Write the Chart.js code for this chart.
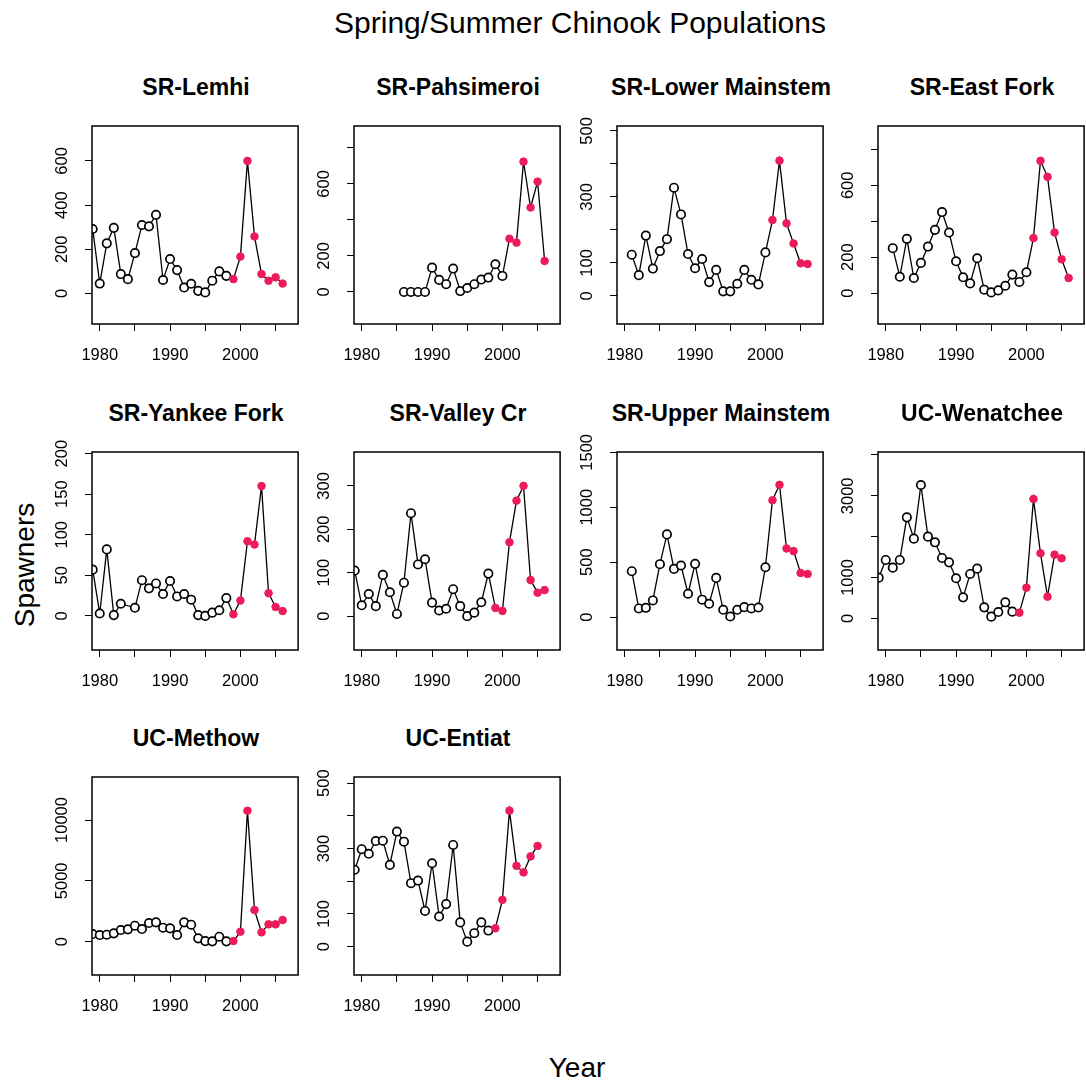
<!DOCTYPE html>
<html>
<head>
<meta charset="utf-8">
<title>Spring/Summer Chinook Populations</title>
<script src="https://cdn.jsdelivr.net/npm/chart.js@4.4.1/dist/chart.umd.min.js"></script>
<style>
    html, body { margin: 0; padding: 0; background: #fff; overflow: hidden; }
    body { width: 1086px; height: 1086px; position: relative; font-family: "Liberation Sans", Arial, sans-serif; color: #000; }
    canvas.panel { position: absolute; }
    .lbl { position: absolute; white-space: nowrap; line-height: 1; transform: translate(-50%, -50%); }
    .main { font-size: 30px; }
    .ptitle { font-size: 23px; font-weight: bold; }
    .axtitle { font-size: 28px; }
</style>
</head>
<body>
<div class="lbl main" style="left:580px; top:23px;">Spring/Summer Chinook Populations</div>
<div class="lbl axtitle" style="left:25px; top:565px; transform: translate(-50%, -50%) rotate(-90deg);">Spawners</div>
<div class="lbl axtitle" style="left:577px; top:1068px;">Year</div>

<script>
/**
 * Spring/Summer Chinook spawner counts, one small panel per population
 */

// years on the x axis
const yrs79to06 = [1979, 1980, 1981, 1982, 1983, 1984, 1985, 1986, 1987, 1988, 1989, 1990, 1991, 1992,
    1993, 1994, 1995, 1996, 1997, 1998, 1999, 2000, 2001, 2002, 2003, 2004, 2005, 2006];
const yrs79to05 = [1979, 1980, 1981, 1982, 1983, 1984, 1985, 1986, 1987, 1988, 1989, 1990, 1991, 1992,
    1993, 1994, 1995, 1996, 1997, 1998, 1999, 2000, 2001, 2002, 2003, 2004, 2005];
const yrs81to06 = [1981, 1982, 1983, 1984, 1985, 1986, 1987, 1988, 1989, 1990, 1991, 1992,
    1993, 1994, 1995, 1996, 1997, 1998, 1999, 2000, 2001, 2002, 2003, 2004, 2005, 2006];
const yrs86to06 = [1986, 1987, 1988, 1989, 1990, 1991, 1992, 1993, 1994, 1995, 1996, 1997, 1998, 1999,
    2000, 2001, 2002, 2003, 2004, 2005, 2006];
const yankeeYears = [1979, 1980, 1981, 1982, 1983, 1985, 1986, 1987, 1988, 1989, 1990, 1991, 1992,
    1993, 1994, 1995, 1996, 1997, 1998, 1999, 2000, 2001, 2002, 2003, 2004, 2005, 2006];

// spawners
const lemhiSpawners = [292, 45, 227, 297, 88, 65, 183, 310, 304, 356, 61, 156, 106, 27, 44, 12, 5, 58, 100, 80,
    65, 167, 600, 258, 88, 58, 73, 45];
const pahsimeroiSpawners = [0, 0, 0, 0, 135, 67, 43, 130, 5, 22, 43, 69, 80, 154, 89,
    296, 274, 724, 469, 613, 172];
const lowerMainSpawners = [125, 63, 183, 83, 136, 172, 328, 247, 127, 84, 112, 42, 79, 14, 14, 37, 79, 49, 35, 132,
    230, 410, 220, 159, 99, 97];
const eastForkSpawners = [250, 91, 302, 84, 168, 259, 352, 451, 337, 177, 88, 54, 194, 19, 4, 15, 41, 103, 62, 116,
    306, 736, 647, 337, 188, 84];
const yankeeSpawners = [57, 3, 82, 1, 15, 10, 44, 34, 40, 27, 43, 24, 27, 20, 1, 0, 4, 7, 22,
    2, 19, 92, 88, 160, 28, 11, 6];
const valleySpawners = [105, 25, 51, 23, 95, 55, 5, 77, 237, 119, 131, 31, 13, 17, 62, 23, 0, 8, 32, 98,
    19, 12, 170, 266, 300, 83, 54, 60];
const upperMainSpawners = [418, 79, 85, 152, 482, 753, 439, 470, 213, 485, 159, 122, 357, 67, 6, 67, 91, 79, 88, 454,
    1064, 1204, 625, 601, 402, 393];
const wenatcheeSpawners = [996, 1429, 1241, 1429, 2473, 1951, 3265, 2000, 1861, 1478, 1371, 980, 514, 1086, 1216,
    269, 41, 155, 392, 163, 139, 751, 2922, 1592, 531, 1559, 1469];
const methowSpawners = [630, 548, 575, 685, 959, 1014, 1315, 1041, 1534, 1589, 1151, 1096, 548, 1589, 1397,
    274, 50, 30, 411, 30, 55, 822, 10767, 2603, 767, 1425, 1425, 1781];
const entiatSpawners = [235, 298, 284, 323, 324, 250, 352, 321, 194, 202, 109, 255, 92, 130, 311, 74, 15, 41, 74, 49,
    56, 143, 416, 247, 227, 276, 308];

// ticks and tick labels
const xTicks = [1980, 1985, 1990, 1995, 2000, 2005];
const xLabels = ["1980", "1990", "2000"];
const lemhiYTicks = [0, 200, 400, 600];
const lemhiYLabels = ["0", "200", "400", "600"];
const pahsimeroiYTicks = [0, 200, 400, 600, 800];
const pahsimeroiYLabels = ["0", "200", "600"];
const lowerMainYTicks = [0, 100, 200, 300, 400, 500];
const lowerMainYLabels = ["0", "100", "300", "500"];
const eastForkYTicks = [0, 200, 400, 600, 800];
const eastForkYLabels = ["0", "200", "600"];
const yankeeYTicks = [0, 50, 100, 150, 200];
const yankeeYLabels = ["0", "50", "100", "150", "200"];
const valleyYTicks = [0, 100, 200, 300];
const valleyYLabels = ["0", "100", "200", "300"];
const upperMainYTicks = [0, 500, 1000, 1500];
const upperMainYLabels = ["0", "500", "1000", "1500"];
const wenatcheeYTicks = [0, 1000, 2000, 3000, 4000];
const wenatcheeYLabels = ["0", "1000", "3000"];
const methowYTicks = [0, 5000, 10000];
const methowYLabels = ["0", "5000", "10000"];
const entiatYTicks = [0, 100, 200, 300, 400, 500];
const entiatYLabels = ["0", "100", "300", "500"];

const panels = [
    { title: "SR-Lemhi", years: yrs79to06, values: lemhiSpawners, redFrom: 1999, yMin: -138, yMax: 758, yTicks: lemhiYTicks, yLabels: lemhiYLabels, col: 0, row: 0 },
    { title: "SR-Pahsimeroi", years: yrs86to06, values: pahsimeroiSpawners, redFrom: 2001, yMin: -178, yMax: 922, yTicks: pahsimeroiYTicks, yLabels: pahsimeroiYLabels, col: 1, row: 0 },
    { title: "SR-Lower Mainstem", years: yrs81to06, values: lowerMainSpawners, redFrom: 2001, yMin: -85, yMax: 515, yTicks: lowerMainYTicks, yLabels: lowerMainYLabels, col: 2, row: 0 },
    { title: "SR-East Fork", years: yrs81to06, values: eastForkSpawners, redFrom: 2001, yMin: -172, yMax: 930, yTicks: eastForkYTicks, yLabels: eastForkYLabels, col: 3, row: 0 },
    { title: "SR-Yankee Fork", years: yankeeYears, values: yankeeSpawners, redFrom: 1999, yMin: -42, yMax: 202, yTicks: yankeeYTicks, yLabels: yankeeYLabels, col: 0, row: 1 },
    { title: "SR-Valley Cr", years: yrs79to06, values: valleySpawners, redFrom: 1999, yMin: -78, yMax: 378, yTicks: valleyYTicks, yLabels: valleyYLabels, col: 1, row: 1 },
    { title: "SR-Upper Mainstem", years: yrs81to06, values: upperMainSpawners, redFrom: 2001, yMin: -299, yMax: 1503, yTicks: upperMainYTicks, yLabels: upperMainYLabels, col: 2, row: 1 },
    { title: "UC-Wenatchee", years: yrs79to05, values: wenatcheeSpawners, redFrom: 1999, yMin: -776, yMax: 4073, yTicks: wenatcheeYTicks, yLabels: wenatcheeYLabels, col: 3, row: 1 },
    { title: "UC-Methow", years: yrs79to06, values: methowSpawners, redFrom: 1999, yMin: -2737, yMax: 13537, yTicks: methowYTicks, yLabels: methowYLabels, col: 0, row: 2 },
    { title: "UC-Entiat", years: yrs79to05, values: entiatSpawners, redFrom: 1999, yMin: -87, yMax: 519, yTicks: entiatYTicks, yLabels: entiatYLabels, col: 1, row: 2 }
];

// layout of the plot boxes
const colLeft = [92, 354, 617, 878];
const rowTop = [126, 452, 777];
const boxW = 208, boxH = 198;
const padL = 50, padB = 50, padT = 25, padR = 4;

const FONT = '"Liberation Sans", Arial, Helvetica, sans-serif';
const RED = "#ec1c5a";
const TICK_SIZE = 16.5;

// plot box like R's box()
const boxPlugin = {
    id: "plotBox",
    afterDraw(chart) {
        const a = chart.chartArea;
        const ctx = chart.ctx;
        ctx.save();
        ctx.strokeStyle = "#000";
        ctx.lineWidth = 1.5;
        ctx.strokeRect(a.left, a.top, a.right - a.left, a.bottom - a.top);
        ctx.restore();
    }
};

const measureCtx = document.createElement("canvas").getContext("2d");
measureCtx.font = TICK_SIZE + "px " + FONT;

function drawPanel(p) {
    const left = colLeft[p.col], top = rowTop[p.row];

    // panel title
    const t = document.createElement("div");
    t.className = "lbl ptitle";
    t.style.left = (left + boxW / 2) + "px";
    t.style.top = (top - 39) + "px";
    t.textContent = p.title;
    document.body.appendChild(t);

    const canvas = document.createElement("canvas");
    canvas.className = "panel";
    canvas.width = boxW + padL + padR;
    canvas.height = boxH + padT + padB;
    canvas.style.left = (left - padL) + "px";
    canvas.style.top = (top - padT) + "px";
    document.body.appendChild(canvas);

    // rotated y labels: keep their centre 30px left of the axis
    const widest = Math.max(...p.yLabels.map(s => measureCtx.measureText(s).width));
    const yPad = 23 - widest / 2;

    const points = p.years.map((yr, i) => ({ x: yr, y: p.values[i] }));
    const isRed = ctx => ctx.raw && ctx.raw.x >= p.redFrom;

    new Chart(canvas, {
        type: "line",
        data: {
            datasets: [{
                data: points,
                borderColor: "#000",
                borderWidth: 1.3,
                tension: 0,
                pointRadius: ctx => isRed(ctx) ? 3.8 : 4.2,
                pointBackgroundColor: ctx => isRed(ctx) ? RED : "#fff",
                pointBorderColor: ctx => isRed(ctx) ? RED : "#000",
                pointBorderWidth: ctx => isRed(ctx) ? 1 : 1.7
            }]
        },
        options: {
            responsive: false,
            animation: false,
            devicePixelRatio: 1,
            layout: { padding: { left: 0, top: padT, right: padR, bottom: 0 } },
            plugins: {
                legend: { display: false },
                tooltip: { enabled: false }
            },
            scales: {
                x: {
                    type: "linear",
                    min: 1978.9,
                    max: 2008.2,
                    afterBuildTicks: axis => { axis.ticks = xTicks.map(v => ({ value: v })); },
                    afterFit: axis => { axis.height = padB; },
                    border: { display: false },
                    grid: { drawOnChartArea: false, drawTicks: true, tickLength: 7, color: "#000", lineWidth: 1 },
                    ticks: {
                        autoSkip: false,
                        minRotation: 0,
                        maxRotation: 0,
                        padding: 15,
                        color: "#000",
                        font: { family: FONT, size: TICK_SIZE },
                        callback: v => xLabels.includes(String(v)) ? String(v) : ""
                    }
                },
                y: {
                    type: "linear",
                    min: p.yMin,
                    max: p.yMax,
                    afterBuildTicks: axis => { axis.ticks = p.yTicks.map(v => ({ value: v })); },
                    afterFit: axis => { axis.width = padL; },
                    border: { display: false },
                    grid: { drawOnChartArea: false, drawTicks: true, tickLength: 7, color: "#000", lineWidth: 1 },
                    ticks: {
                        autoSkip: false,
                        minRotation: 90,
                        maxRotation: 90,
                        crossAlign: "center",
                        padding: yPad,
                        color: "#000",
                        font: { family: FONT, size: TICK_SIZE },
                        callback: v => p.yLabels.includes(String(v)) ? String(v) : ""
                    }
                }
            }
        },
        plugins: [boxPlugin]
    });
}

panels.forEach(drawPanel);
</script>
</body>
</html>
